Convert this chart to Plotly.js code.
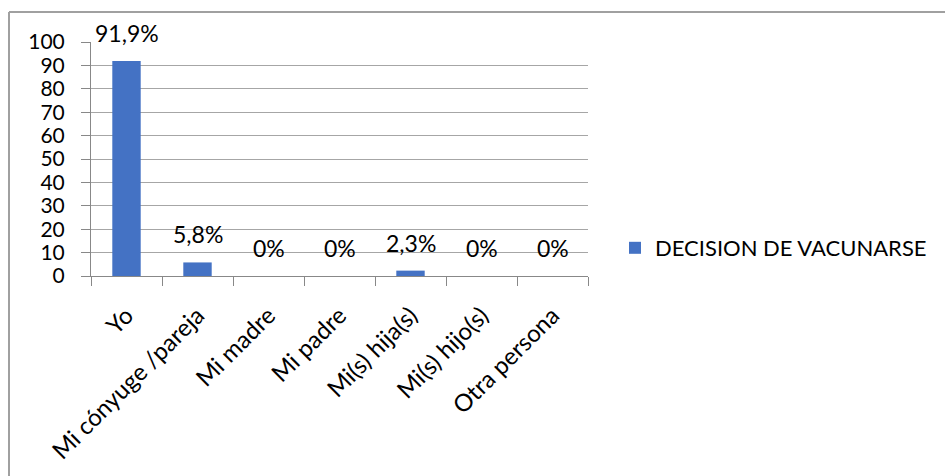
<!DOCTYPE html>
<html>
<head>
<meta charset="utf-8">
<script src="https://cdn.plot.ly/plotly-3.0.1.min.js"></script>
<style>
  html, body { margin: 0; padding: 0; background: #fff; }
  #chart { width: 945px; height: 476px; }
</style>
</head>
<body>
<div id="chart"></div>
<script>
const categories = ["Yo", "Mi cónyuge /pareja", "Mi madre", "Mi padre", "Mi(s) hija(s)", "Mi(s) hijo(s)", "Otra persona"];
const values = [91.9, 5.8, 0, 0, 2.3, 0, 0];
const valueLabels = ["91,9%", "5,8%", "0%", "0%", "2,3%", "0%", "0%"];
const seriesName = "DECISION DE VACUNARSE";
const yTicks = [0, 10, 20, 30, 40, 50, 60, 70, 80, 90, 100];

const FONT = "Lato, 'Open Sans', sans-serif";
const L = 91, R = 945 - 588, T = 42, B = 476 - 276;
const pw = 945 - L - R, ph = 476 - T - B;
const px = x => (x - L) / pw;
const py = y => (476 - B - y) / ph;

const trace = {
  type: "bar",
  x: categories,
  y: values,
  name: seriesName,
  marker: { color: "#4472C4" },
  showlegend: true,
  hoverinfo: "x+y"
};

const annotations = categories.map((c, i) => ({
  x: c, y: values[i], xref: "x", yref: "y",
  text: valueLabels[i], showarrow: false,
  yanchor: "bottom", yshift: 12,
  font: { family: FONT, size: 23, color: "#000" }
}));

const layout = {
  width: 945, height: 476,
  margin: { l: L, r: R, t: T, b: B },
  paper_bgcolor: "#fff", plot_bgcolor: "#fff",
  bargap: 0.6,
  font: { family: FONT, color: "#000" },
  xaxis: {
    type: "category",
    tickangle: -45,
    ticks: "outside", tickson: "boundaries", ticklen: 9, tickcolor: "#888",
    ticklabelstandoff: 15,
    showline: true, linecolor: "#888", linewidth: 1,
    showgrid: false,
    tickfont: { family: FONT, size: 24, color: "#000" },
    fixedrange: true
  },
  yaxis: {
    range: [0, 100],
    tickvals: yTicks,
    ticks: "outside", ticklen: 9, tickcolor: "#888",
    ticklabelstandoff: 12,
    showline: true, linecolor: "#888", linewidth: 1,
    showgrid: true, gridcolor: "#A6A6A6", gridwidth: 1,
    zeroline: false,
    tickfont: { family: FONT, size: 21, color: "#000" },
    fixedrange: true
  },
  legend: {
    x: px(615), xanchor: "left",
    y: py(248), yanchor: "middle",
    font: { family: FONT, size: 22, color: "#000" },
    bgcolor: "rgba(0,0,0,0)"
  },
  annotations: annotations,
  shapes: [
    { type: "line", xref: "paper", yref: "paper", x0: px(9), x1: px(945), y0: py(12), y1: py(12),
      line: { color: "#A0A0A0", width: 2 } },
    { type: "line", xref: "paper", yref: "paper", x0: px(9), x1: px(9), y0: py(12), y1: py(476),
      line: { color: "#A0A0A0", width: 2 } }
  ]
};

Plotly.newPlot("chart", [trace], layout, { displayModeBar: false, staticPlot: true });
</script>
</body>
</html>
